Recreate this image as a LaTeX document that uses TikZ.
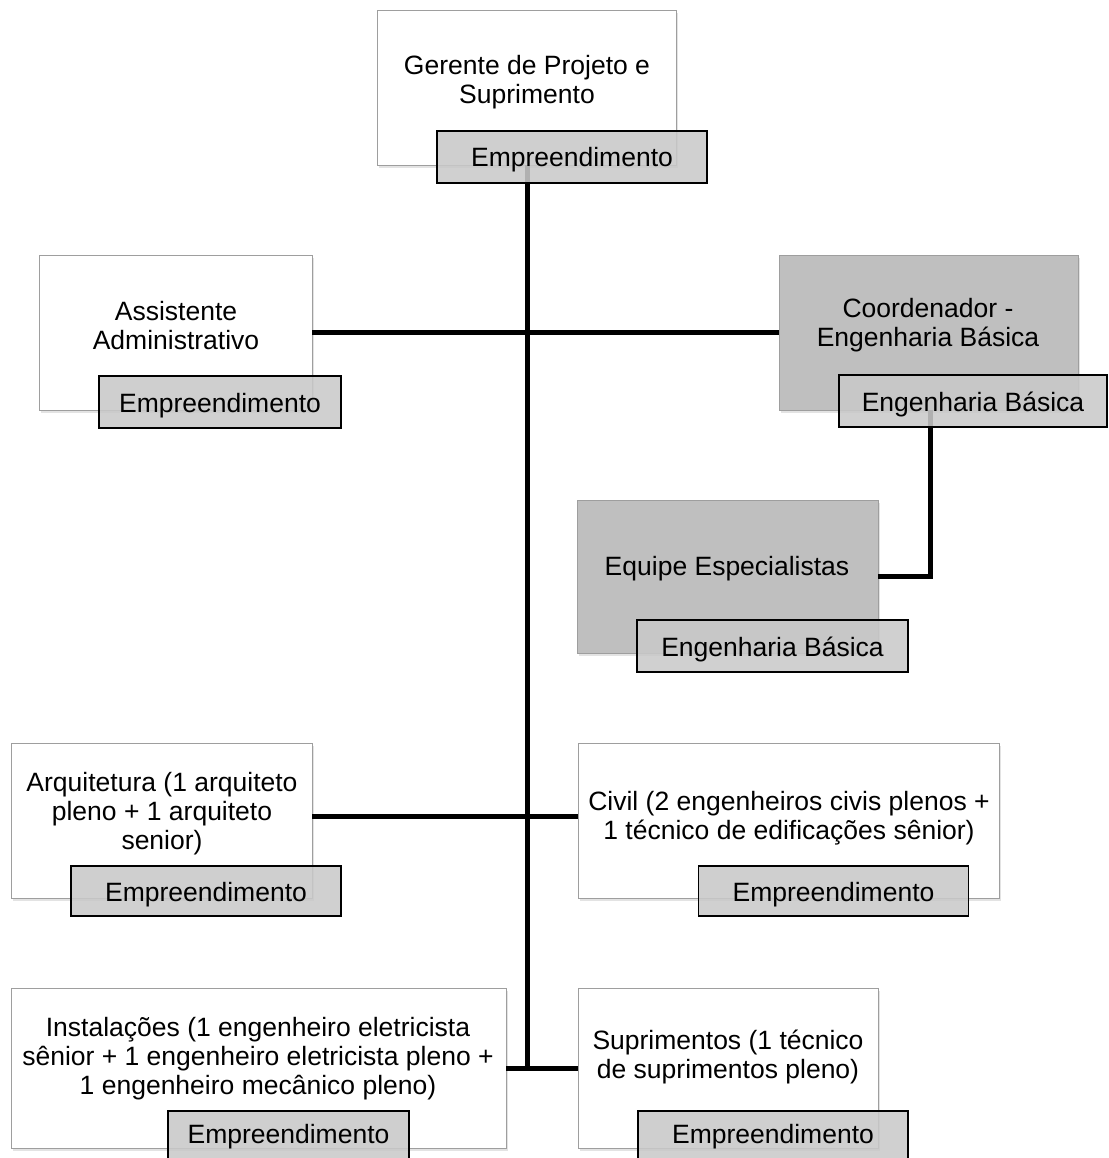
\documentclass[tikz,border=0pt]{standalone}
\usepackage{fontspec}
\setmainfont{Liberation Sans}
\usetikzlibrary{shadows}
\definecolor{boxedge}{gray}{0.62}
\definecolor{darkbox}{gray}{0.75}
\definecolor{tagfill}{gray}{0.79}
\begin{document}
\begin{tikzpicture}[x=1pt,y=-1pt,
  every node/.style={font=\fontsize{26.5}{29}\selectfont, inner sep=0pt},
  unit/.style={draw=boxedge, line width=0.8pt, fill=white, minimum width=#1,
    drop shadow={opacity=0.22, shadow xshift=1.5pt, shadow yshift=-3pt}},
  unit/.default=300pt,
  boxh/.style={minimum height=#1},
  shade/.style={fill=darkbox},
  tag/.style={draw=black, line width=1.3pt, fill=tagfill, fill opacity=0.88,
    text opacity=1, minimum width=#1, minimum height=52pt,
    text height=26pt, text depth=6pt},
  tag/.default=270pt,
  cliptag/.style={minimum height=51pt, text height=19.5pt, text depth=6pt},
  caption/.style={align=center, text=black},
  link/.style={line width=5pt, black}]
\useasboundingbox (0,0) rectangle (1108,1158);

% unit boxes
\node[unit=299pt, boxh=155pt] (gerente) at (527,87.5) {};
\node[unit=273pt, boxh=155pt] (assist) at (175.5,332.5) {};
\node[unit=299pt, boxh=155pt, shade] (coord) at (928.5,332.5) {};
\node[unit=301pt, boxh=153pt, shade] (equipe) at (727.5,576.5) {};
\node[unit=301pt, boxh=155pt] (arq) at (161.5,820.5) {};
\node[unit=421pt, boxh=155pt] (civil) at (788.5,820.5) {};
\node[unit=495pt, boxh=160pt] (inst) at (258.5,1068) {};
\node[unit=300pt, boxh=160pt] (supr) at (728,1068) {};

% connectors
\coordinate (junction) at (gerente.south |- inst.east);
\draw[link] (gerente.south) -- (junction);
\draw[link] (assist.east) -- (coord.west);
\draw[link] ([yshift=4.5pt]arq.east) -- ([yshift=4.5pt]civil.west);
\draw[link] (inst.east) -- (supr.west);
\draw[link] ([xshift=1.5pt]coord.south) -- ([xshift=1.5pt]coord.south |- equipe.east) -- (equipe.east);

% captions
\node[caption] (gerente-t) at (527,82) {Gerente de Projeto e\\Suprimento};
\node[caption] (assist-t) at (176,326) {Assistente\\Administrativo};
\node[caption] (coord-t) at (928,325) {Coordenador -\\Engenharia Básica};
\node[caption] (equipe-t) at (727,569) {Equipe Especialistas};
\node[caption] (arq-t) at (162,814) {Arquitetura (1 arquiteto\\pleno + 1 arquiteto\\senior)};
\node[caption] (civil-t) at (789,818) {Civil (2 engenheiros civis plenos +\\1 técnico de edificações sênior)};
\node[caption] (inst-t) at (258,1059) {Instalações (1 engenheiro eletricista\\sênior + 1 engenheiro eletricista pleno +\\1 engenheiro mecânico pleno)};
\node[caption] (supr-t) at (728,1057) {Suprimentos (1 técnico\\de suprimentos pleno)};

% department tags
\node[tag] (gerente-l) at (572,157) {Empreendimento};
\node[tag=242pt] (assist-l) at (220,402) {Empreendimento};
\node[tag=268pt] (coord-l) at (973,401) {Engenharia Básica};
\node[tag=271pt] (equipe-l) at (772.5,646) {Engenharia Básica};
\node[tag, minimum height=50pt] (arq-l) at (206,891) {Empreendimento};
\node[tag, minimum height=50pt] (civil-l) at (833.5,891) {Empreendimento};
\node[tag=241pt, cliptag] (inst-l) at (288.5,1136.5) {Empreendimento};
\node[tag, cliptag] (supr-l) at (773,1136.5) {Empreendimento};
\end{tikzpicture}
\end{document}
